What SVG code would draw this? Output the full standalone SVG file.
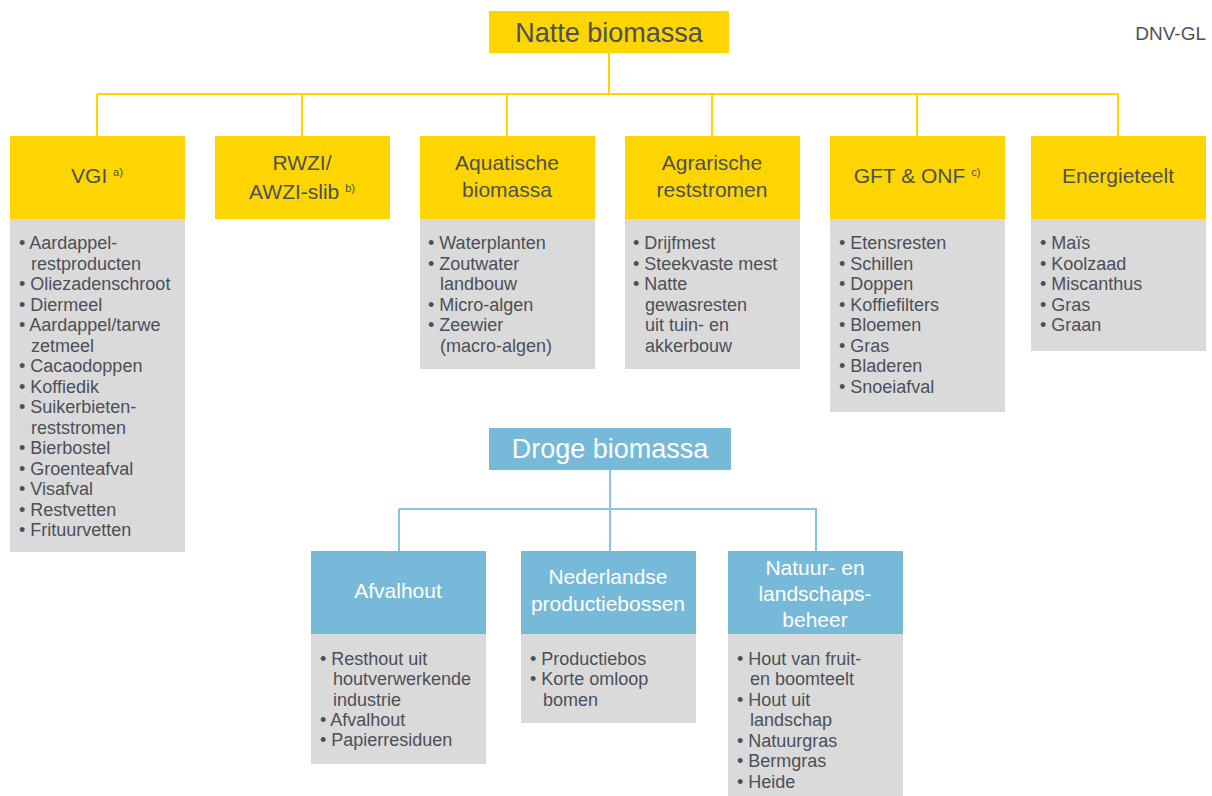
<svg xmlns="http://www.w3.org/2000/svg" width="1212" height="796" viewBox="0 0 1212 796">
<style>
text{font-family:"Liberation Sans",Arial,sans-serif;fill:#4b5058}
.top{font-size:27px}
.hd{font-size:21px;text-anchor:middle}
.li{font-size:18px}
.sup{font-size:11px}
.wh{fill:#ffffff}
.y{fill:#ffd500}
.b{fill:#77b9d8}
.g{fill:#dadada}
.cy{stroke:#ffd500;stroke-width:2;fill:none}
.cb{stroke:#8cc4df;stroke-width:2;fill:none}
</style>
<rect width="1212" height="796" fill="#ffffff"/>
<text x="1206" y="40" font-size="19" text-anchor="end">DNV-GL</text>
<g id="connectors">
<path class="cy" d="M609 53V94M97 94H1119M97 94V136M302 94V136M507 94V136M712 94V136M917 94V136M1118 94V136"/>
<path class="cb" d="M610 470V509M399 509H817M399 509V551M610 509V551M816 509V551"/>
</g>
<g id="natte">
<rect class="y" x="489" y="11" width="240" height="42"/>
<text class="top" x="609" y="42" text-anchor="middle">Natte biomassa</text>
</g>
<g id="vgi">
<rect class="y" x="10" y="136" width="175" height="83"/>
<rect class="g" x="10" y="219" width="175" height="333"/>
<text class="hd" x="97" y="183">VGI <tspan class="sup" dy="-7">a)</tspan></text>
<text class="li"><tspan x="19" y="249">• Aardappel-</tspan><tspan x="31" y="270">restproducten</tspan><tspan x="19" y="290">• Oliezadenschroot</tspan><tspan x="19" y="311">• Diermeel</tspan><tspan x="19" y="331">• Aardappel/tarwe</tspan><tspan x="31" y="352">zetmeel</tspan><tspan x="19" y="372">• Cacaodoppen</tspan><tspan x="19" y="393">• Koffiedik</tspan><tspan x="19" y="413">• Suikerbieten-</tspan><tspan x="31" y="434">reststromen</tspan><tspan x="19" y="454">• Bierbostel</tspan><tspan x="19" y="475">• Groenteafval</tspan><tspan x="19" y="495">• Visafval</tspan><tspan x="19" y="516">• Restvetten</tspan><tspan x="19" y="536">• Frituurvetten</tspan></text>
</g>
<g id="rwzi">
<rect class="y" x="215" y="136" width="175" height="83"/>
<text class="hd"><tspan x="302" y="170">RWZI/</tspan><tspan x="302" y="199">AWZI-slib <tspan class="sup" dy="-7">b)</tspan></tspan></text>
</g>
<g id="aquatische">
<rect class="y" x="420" y="136" width="175" height="83"/>
<rect class="g" x="420" y="219" width="175" height="150"/>
<text class="hd"><tspan x="507" y="170">Aquatische</tspan><tspan x="507" y="197">biomassa</tspan></text>
<text class="li"><tspan x="428" y="249">• Waterplanten</tspan><tspan x="428" y="270">• Zoutwater</tspan><tspan x="440" y="290">landbouw</tspan><tspan x="428" y="311">• Micro-algen</tspan><tspan x="428" y="331">• Zeewier</tspan><tspan x="440" y="352">(macro-algen)</tspan></text>
</g>
<g id="agrarische">
<rect class="y" x="625" y="136" width="175" height="83"/>
<rect class="g" x="625" y="219" width="175" height="150"/>
<text class="hd"><tspan x="712" y="170">Agrarische</tspan><tspan x="712" y="197">reststromen</tspan></text>
<text class="li"><tspan x="633" y="249">• Drijfmest</tspan><tspan x="633" y="270">• Steekvaste mest</tspan><tspan x="633" y="290">• Natte</tspan><tspan x="645" y="311">gewasresten</tspan><tspan x="645" y="331">uit tuin- en</tspan><tspan x="645" y="352">akkerbouw</tspan></text>
</g>
<g id="gft">
<rect class="y" x="830" y="136" width="175" height="83"/>
<rect class="g" x="830" y="219" width="175" height="193"/>
<text class="hd" x="917" y="183">GFT &amp; ONF <tspan class="sup" dy="-7">c)</tspan></text>
<text class="li"><tspan x="839" y="249">• Etensresten</tspan><tspan x="839" y="270">• Schillen</tspan><tspan x="839" y="290">• Doppen</tspan><tspan x="839" y="311">• Koffiefilters</tspan><tspan x="839" y="331">• Bloemen</tspan><tspan x="839" y="352">• Gras</tspan><tspan x="839" y="372">• Bladeren</tspan><tspan x="839" y="393">• Snoeiafval</tspan></text>
</g>
<g id="energieteelt">
<rect class="y" x="1031" y="136" width="175" height="83"/>
<rect class="g" x="1031" y="219" width="175" height="132"/>
<text class="hd" x="1118" y="183">Energieteelt</text>
<text class="li"><tspan x="1040" y="249">• Maïs</tspan><tspan x="1040" y="270">• Koolzaad</tspan><tspan x="1040" y="290">• Miscanthus</tspan><tspan x="1040" y="311">• Gras</tspan><tspan x="1040" y="331">• Graan</tspan></text>
</g>
<g id="droge">
<rect class="b" x="489" y="428" width="242" height="42"/>
<text class="top wh" x="610" y="458" text-anchor="middle">Droge biomassa</text>
</g>
<g id="afvalhout">
<rect class="b" x="311" y="551" width="175" height="83"/>
<rect class="g" x="311" y="634" width="175" height="130"/>
<text class="hd wh" x="398" y="598">Afvalhout</text>
<text class="li"><tspan x="320" y="665">• Resthout uit</tspan><tspan x="333" y="685">houtverwerkende</tspan><tspan x="333" y="706">industrie</tspan><tspan x="320" y="726">• Afvalhout</tspan><tspan x="320" y="746">• Papierresiduen</tspan></text>
</g>
<g id="nederlandse">
<rect class="b" x="521" y="551" width="175" height="83"/>
<rect class="g" x="521" y="634" width="175" height="89"/>
<text class="hd wh"><tspan x="608" y="584">Nederlandse</tspan><tspan x="608" y="611">productiebossen</tspan></text>
<text class="li"><tspan x="530" y="665">• Productiebos</tspan><tspan x="530" y="685">• Korte omloop</tspan><tspan x="543" y="706">bomen</tspan></text>
</g>
<g id="natuur">
<rect class="b" x="728" y="551" width="175" height="83"/>
<rect class="g" x="728" y="634" width="175" height="162"/>
<text class="hd wh"><tspan x="815" y="575">Natuur- en</tspan><tspan x="815" y="601">landschaps-</tspan><tspan x="815" y="627">beheer</tspan></text>
<text class="li"><tspan x="737" y="665">• Hout van fruit-</tspan><tspan x="750" y="685">en boomteelt</tspan><tspan x="737" y="706">• Hout uit</tspan><tspan x="750" y="726">landschap</tspan><tspan x="737" y="747">• Natuurgras</tspan><tspan x="737" y="767">• Bermgras</tspan><tspan x="737" y="788">• Heide</tspan></text>
</g>
</svg>
